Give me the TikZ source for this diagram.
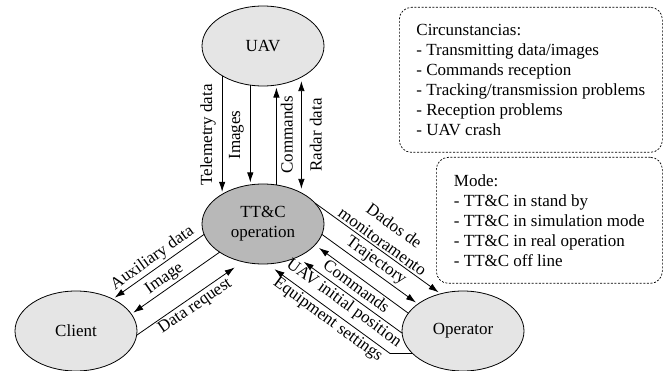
\documentclass[tikz,border=0pt]{standalone}
\usepackage{fontspec}
\setmainfont{Liberation Serif}
\newfontfamily\diagfont{Liberation Serif}
\usetikzlibrary{arrows.meta,shapes.geometric}

\begin{document}
\begin{tikzpicture}[x=1pt, y=-1pt,
  every node/.style={font=\diagfont\fontsize{17}{20}\selectfont},
  ent/.style={ellipse, draw, line width=0.8pt, minimum width=122pt,
    minimum height=80pt, inner sep=0pt, outer sep=0pt, fill=black!10},
  hub/.style={ent, fill=black!28},
  link/.style={line width=0.8pt, -{Latex[length=10pt,width=6.5pt]}, shorten >=2.5pt},
  both/.style={line width=0.8pt,
    {Latex[length=10pt,width=6.5pt]}-{Latex[length=10pt,width=6.5pt]},
    shorten >=4pt, shorten <=4pt},
  notebox/.style={draw, line width=0.7pt, dash pattern=on 2pt off 1.6pt,
    rounded corners=12pt, align=left, anchor=north west, inner sep=0pt},
  lbl/.style={inner sep=2pt}
]
\useasboundingbox (0,0) rectangle (672,371);

% entities
\node[ent] (uav) at (263,46) {UAV};
\node[hub, align=center] (tt) at (263,224) {TT\&C\\operation};
\node[ent] (cli) at (76,331) {Client};
\node[ent] (op) at (463,331) {Operator};

% notes
\node[notebox, minimum width=263pt, minimum height=145pt] (circ) at (399,7)
  {Circunstancias:\\- Transmitting data/images\\- Commands reception\\%
   - Tracking/transmission problems\\- Reception problems\\- UAV crash};
\node[notebox, minimum width=226pt, minimum height=126pt] (mode) at (436,157)
  {Mode:\\- TT\&C in stand by\\- TT\&C in simulation mode\\%
   - TT\&C in real operation\\- TT\&C off line};

% UAV <-> TT&C
\draw[link] (uav.-144.2) -- node[midway, rotate=90, anchor=south, inner sep=6pt] (l1) {Telemetry data} (tt.144.2);
\draw[link] (uav.-108.4) -- node[midway, rotate=90, anchor=south, inner sep=6pt] (l2) {Images} (tt.108.4);
\draw[link] (tt.71.6) -- node[midway, rotate=90, anchor=north, inner sep=4pt] (l3) {Commands} (uav.-71.6);
\draw[both] (uav.-39.5) -- node[midway, rotate=90, anchor=north, inner sep=8pt] (l4) {Radar data} (tt.39.5);

% TT&C <-> Client
\draw[link] (tt.-170.1) -- node[midway, sloped, above, lbl] (l5) {Auxiliary data} (cli.41.8);
\draw[link] (tt.-147.6) -- node[pos=0.56, sloped, above, lbl] (l6) {Image} (cli.17.55);
\draw[link, shorten >=10pt] (cli.-4.7) -- node[midway, sloped, below, lbl] (l7) {Data request} (tt.-118.5);

% TT&C <-> Operator
\draw[link] (tt.22.5) -- node[midway, sloped, above, align=center, lbl] (l8) {Dados de\\monitoramento} (op.121.6);
\draw[link] (tt.-10.6) -- node[midway, sloped, above, lbl] (l9) {Trajectory} (op.149.9);
\draw[link, shorten >=5pt] (op.162.6) -- node[midway, sloped, below, lbl] (l10) {Commands} (tt.-22.9);
\draw[link, shorten >=8pt] (op.182.5) -- node[midway, sloped, below, lbl] (l11) {UAV initial position} (tt.-44.4);
\coordinate (eqbend) at (390,353.3);
\draw[link, shorten >=9pt] (op.204) -- (op.204 -| eqbend) -- node[pos=0.46, sloped, below, lbl] (l12) {Equipment settings} (tt.-84.2);
\end{tikzpicture}
\end{document}
